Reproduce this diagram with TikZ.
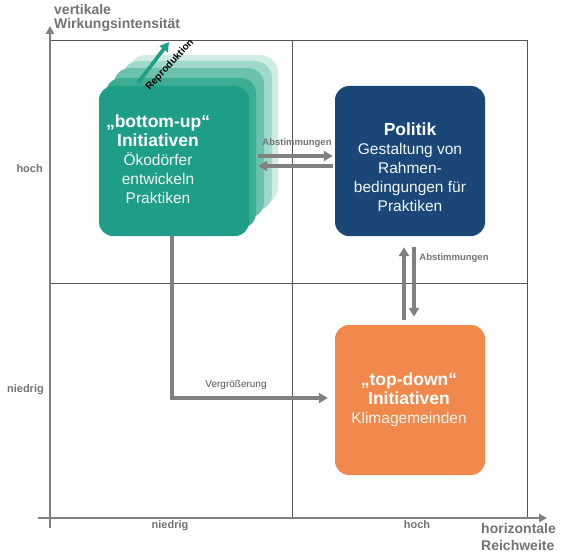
\documentclass[tikz,border=0pt]{standalone}
\usepackage{fontspec}
\setmainfont{Liberation Sans}
\usetikzlibrary{arrows.meta}
\definecolor{teal0}{HTML}{1E9E87}
\definecolor{teal1}{HTML}{3CAC94}
\definecolor{teal2}{HTML}{6CC1AE}
\definecolor{teal3}{HTML}{A0D8CB}
\definecolor{teal4}{HTML}{D0ECE5}
\definecolor{polblue}{HTML}{1A4777}
\definecolor{tdorange}{HTML}{F0894B}
\definecolor{gridgray}{HTML}{555555}
\definecolor{axgray}{HTML}{808080}
\definecolor{labgray}{HTML}{737373}
\definecolor{softwhite}{HTML}{F2F7F5}
\newcommand{\boxheadfont}{\color{white}\bfseries\fontsize{17.5}{19}\selectfont}
\begin{document}
\begin{tikzpicture}[x=1pt,y=-1pt,
  gridline/.style={draw=gridgray, line width=0.8pt},
  axisline/.style={draw=axgray, line width=2.6pt, -{Triangle[length=8pt,width=8pt]}},
  conn/.style={draw=axgray, line width=3.6pt, -{Triangle[length=9pt,width=10pt]}},
  repconn/.style={draw=teal0, line width=3.6pt, -{Triangle[length=9pt,width=10pt]}},
  qbox/.style={rectangle, rounded corners=14pt, minimum width=150pt, minimum height=150pt, inner sep=0pt},
  boxtxt/.style={text=softwhite, align=center, font=\fontsize{15.5}{19}\selectfont, inner sep=0pt},
  smalllab/.style={font=\bfseries\fontsize{9.5}{11}\selectfont, text=labgray, inner sep=0pt},
  axlab/.style={font=\bfseries\fontsize{11}{13}\selectfont, text=labgray, inner sep=0pt},
  axtitle/.style={font=\bfseries\fontsize{14}{16}\selectfont, text=labgray, inner sep=0pt, anchor=base west}
]
\useasboundingbox (0,0) rectangle (577,559);
% grid
\draw[gridline] (50,40) -- (527,40) -- (527,518);
\draw[gridline] (292,40) -- (292,518);
\draw[gridline] (50,283) -- (527,283);
% axes
\draw[axisline] (50,528) -- (50,26);
\draw[axisline] (38,518) -- (547,518);
% axis labels
\node[axtitle] (vt1) at (54,15) {vertikale};
\node[axtitle] (vt2) at (54,29) {Wirkungsintensität};
\node[axtitle] (ht1) at (481,533) {horizontale};
\node[axtitle] (ht2) at (481,550) {Reichweite};
\node[axlab, anchor=east] (yh) at (43,169) {hoch};
\node[axlab, anchor=east] (yn) at (44,390) {niedrig};
\node[axlab] (xn) at (170,526) {niedrig};
\node[axlab] (xh) at (417,525) {hoch};
% bottom-up stack
\node[qbox, fill=teal4, rounded corners=18pt] (bu4) at (203,130) {};
\node[qbox, fill=teal3, rounded corners=17pt] (bu3) at (197,136) {};
\node[qbox, fill=teal2, rounded corners=16pt] (bu2) at (189,143) {};
\node[qbox, fill=teal1, rounded corners=15pt] (bu1) at (181,153) {};
\node[qbox, fill=teal0] (bu) at (174,161) {};
\node[boxtxt] (butxt) at (158,159) {{\boxheadfont „bottom-up“}\\{\boxheadfont Initiativen}\\Ökodörfer\\entwickeln\\Praktiken};
% Politik
\node[qbox, fill=polblue] (pol) at (410,161) {};
\node[boxtxt] (poltxt) at (410,167) {{\boxheadfont Politik}\\Gestaltung von\\Rahmen-\\bedingungen für\\Praktiken};
% top-down
\node[qbox, fill=tdorange] (td) at (410,400) {};
\node[boxtxt] (tdtxt) at (409,400) {{\boxheadfont „top-down“}\\{\boxheadfont Initiativen}\\Klimagemeinden};
% Reproduktion
\coordinate (r1) at (138,83);
\coordinate (r2) at (169,42);
\draw[repconn] (r1) -- (r2);
\node[font=\bfseries\fontsize{10}{11}\selectfont, rotate=47, inner sep=0pt] (rep) at (170,65) {Reproduktion};
% Abstimmungen horizontal
\draw[conn] ([xshift=9pt,yshift=5pt]bu.east) -- ([xshift=-2pt,yshift=5pt]pol.west);
\draw[conn] ([xshift=-2pt,yshift=-5pt]pol.west) -- ([xshift=9pt,yshift=-5pt]bu.east);
\node[smalllab] (ab1) at (297,143) {Abstimmungen};
% Abstimmungen vertical
\draw[conn] ([xshift=-6pt,yshift=5pt]td.north) -- ([xshift=-6pt,yshift=-11pt]pol.south);
\draw[conn] ([xshift=4pt,yshift=-11pt]pol.south) -- ([xshift=4pt,yshift=8pt]td.north);
\node[smalllab] (ab2) at (454,258) {Abstimmungen};
% Vergroesserung
\draw[conn] ([xshift=-2pt]bu.south) |- ([xshift=-7pt,yshift=2pt]td.west);
\node[font=\fontsize{10}{12}\selectfont, text=gridgray, inner sep=0pt] (verg) at (236,385) {Vergrößerung};
\end{tikzpicture}
\end{document}
